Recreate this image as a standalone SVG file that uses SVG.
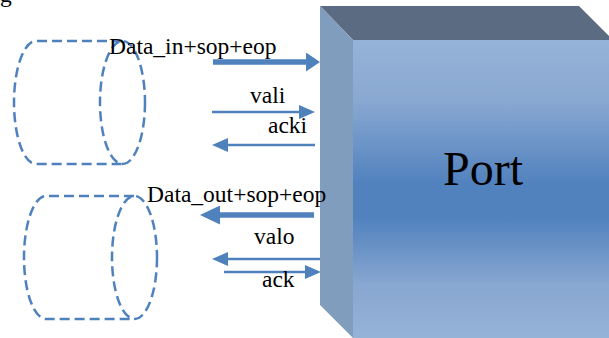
<svg xmlns="http://www.w3.org/2000/svg" width="609" height="338" viewBox="0 0 609 338">
<style>
.lbl{font-family:"Liberation Serif","Times New Roman",serif;font-size:23.5px;fill:#000}
.cyl{fill:none;stroke:#4F81BD;stroke-width:2.5;stroke-dasharray:10 5}
.thick{stroke:#4F81BD;stroke-width:5.5;fill:none}
.thin{stroke:#4F81BD;stroke-width:2.5;fill:none}
</style>
<defs>
<linearGradient id="front" x1="0" y1="0" x2="0" y2="1">
<stop offset="0" stop-color="#95B3D7"/>
<stop offset="0.2" stop-color="#8AA9D2"/>
<stop offset="0.48" stop-color="#5282BE"/>
<stop offset="0.6" stop-color="#5282BE"/>
<stop offset="0.82" stop-color="#88A7D1"/>
<stop offset="1" stop-color="#95B3D7"/>
</linearGradient>
<marker id="hThickA" markerUnits="userSpaceOnUse" markerWidth="14" markerHeight="19" refX="0" refY="9.5" orient="auto"><path d="M0,0 L14,9.5 L0,19 z" fill="#4F81BD"/></marker>
<marker id="hThickB" markerUnits="userSpaceOnUse" markerWidth="20" markerHeight="19" refX="0" refY="9.5" orient="auto"><path d="M0,0 L20,9.5 L0,19 z" fill="#4F81BD"/></marker>
<marker id="hThin" markerUnits="userSpaceOnUse" markerWidth="16" markerHeight="14" refX="0" refY="7" orient="auto"><path d="M0,0 L16,7 L0,14 z" fill="#4F81BD"/></marker>
</defs>
<text class="lbl" x="0" y="2">g</text>
<g id="port">
<polygon points="320,6 579,6 613,40 353,40" fill="#5B6B82"/>
<polygon points="320,6 353,40 353,338 320,305" fill="#819DBE"/>
<rect x="353" y="40" width="260" height="298" fill="url(#front)"/>
<text x="483" y="185" text-anchor="middle" font-family="Liberation Serif, Times New Roman, serif" font-size="48" fill="#000">Port</text>
</g>
<g id="cylinder-in">
<path class="cyl" d="M122,41 L36,41 A22,61.5 0 0 0 36,164 L122,164"/>
<ellipse class="cyl" cx="122.5" cy="102.5" rx="22.5" ry="61.5"/>
</g>
<g id="cylinder-out">
<path class="cyl" d="M134,196 L46,196 A22,61.5 0 0 0 46,319 L134,319"/>
<ellipse class="cyl" cx="134.5" cy="257.5" rx="22.5" ry="61.5"/>
</g>
<g id="connectors">
<line class="thick" x1="213" y1="62" x2="306" y2="62" marker-end="url(#hThickA)"/>
<line class="thin" x1="212" y1="112" x2="299" y2="112" marker-end="url(#hThin)"/>
<line class="thin" x1="315" y1="145" x2="228" y2="145" marker-end="url(#hThin)"/>
<line class="thick" x1="314" y1="215" x2="220" y2="215" marker-end="url(#hThickB)"/>
<line class="thin" x1="320" y1="259" x2="228" y2="259" marker-end="url(#hThin)"/>
<line class="thin" x1="224" y1="272" x2="305" y2="272" marker-end="url(#hThin)"/>
</g>
<g id="labels">
<text class="lbl" x="109" y="54">Data_in+sop+eop</text>
<text class="lbl" x="250" y="103">vali</text>
<text class="lbl" x="268" y="133">acki</text>
<text class="lbl" x="147" y="202">Data_out+sop+eop</text>
<text class="lbl" x="254" y="244">valo</text>
<text class="lbl" x="262" y="287">ack</text>
</g>
</svg>
